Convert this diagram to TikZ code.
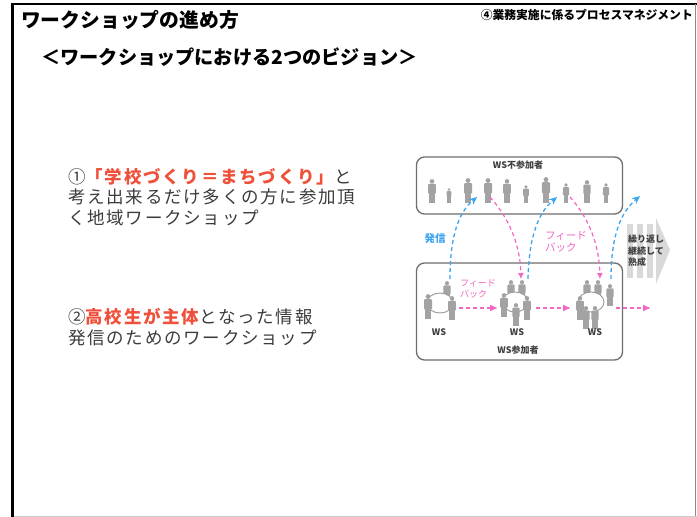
\documentclass[tikz,border=0pt]{standalone}
\usepackage{fontspec}
\newfontfamily\jp{Noto Sans CJK JP}
\newfontfamily\jpls{Noto Sans CJK JP}[LetterSpace=10]
\usetikzlibrary{arrows.meta,shapes.geometric}

\definecolor{accent}{HTML}{F0503A}
\definecolor{bodytxt}{HTML}{3C3C3C}
\definecolor{sil}{HTML}{A3A3A3}
\definecolor{boxline}{HTML}{6E6E6E}
\definecolor{sky}{HTML}{3DA5F0}
\definecolor{rose}{HTML}{F266C4}
\definecolor{stripe}{HTML}{D9D9D9}

\tikzset{
  % standing silhouette, one unit tall, y pointing down
  person/.pic={
    \fill[sil] (0,0.1) circle[radius=0.095];
    \fill[sil, rounded corners=1pt] (-0.16,0.2) rectangle (0.16,0.62);
    \fill[sil] (-0.12,0.58) rectangle (0.12,1);
  },
  panel/.style={draw=boxline, line width=1.3pt, rounded corners=8pt, fill=white, inner sep=0},
  smalllbl/.style={font=\jp\bfseries\fontsize{9}{10}\selectfont, text=black!75, inner sep=0},
  table/.style={draw=boxline!70, fill=white, line width=0.9pt},
  sendarrow/.style={sky, line width=1.3pt, dash pattern=on 4pt off 3pt, -{Stealth[length=8pt,width=7pt]}},
  backarrow/.style={rose, line width=1.2pt, dash pattern=on 4pt off 3pt, -{Latex[length=6pt,width=6pt]}},
  flowarrow/.style={rose, line width=1.2pt, dash pattern=on 4pt off 3pt, -{Latex[length=8pt,width=7pt]}},
}

\begin{document}
\begin{tikzpicture}[x=1pt,y=-1pt]
\useasboundingbox (0,0) rectangle (697,517);
\fill[white] (0,0) rectangle (697,517);

% slide frame
\draw[black, line width=3pt] (12.5,3) -- (12.5,517);
\draw[black, line width=2pt] (11,4) -- (697,4);
\draw[black!45, line width=1.2pt] (695.5,4) -- (695.5,517);
\draw[black!20, line width=1pt] (14,516.5) -- (697,516.5);

% headings
\node[anchor=west, inner sep=0, font=\jp\bfseries\fontsize{19.8}{22}\selectfont] (title) at (21,20) {ワークショップの進め方};
\node[anchor=east, inner sep=0, font=\jp\bfseries\fontsize{11.8}{13}\selectfont] (section) at (693,15) {④業務実施に係るプロセスマネジメント};
\node[anchor=west, inner sep=0, font=\jp\bfseries\fontsize{19.2}{21}\selectfont] (subtitle) at (41,57) {＜ワークショップにおける2つのビジョン＞};

% two visions
\node[anchor=north west, inner sep=0, align=left, text=bodytxt,
      font=\jpls\fontsize{17.5}{20.5}\selectfont] (vision1) at (68,168)
  {①{\color{accent}\bfseries「学校づくり＝まちづくり」}と\\考え出来るだけ多くの方に参加頂\\く地域ワークショップ};
\node[anchor=north west, inner sep=0, align=left, text=bodytxt,
      font=\jpls\fontsize{17.5}{20.5}\selectfont] (vision2) at (68,308)
  {②{\color{accent}\bfseries 高校生が主体}となった情報\\発信のためのワークショップ};

% repetition arrow on the right
\fill[stripe] (627,224) rectangle (633,278);
\fill[stripe] (637,224) rectangle (643,278);
\fill[stripe] (647,224) rectangle (653,278);
\fill[stripe] (656,218) -- (670,250) -- (656,284) -- cycle;
\node[anchor=north west, inner sep=0, align=left, text=black!75,
      font=\jp\bfseries\fontsize{9}{11.5}\selectfont] (repeat) at (628,235) {繰り返し\\継続して\\熟成};

% group boxes
\node[panel, minimum width=206pt, minimum height=57pt] (outside) at (519.5,185.5) {};
\node[panel, minimum width=206pt, minimum height=97pt] (inside) at (519.5,311.5) {};
\node[smalllbl] (outlbl) at (518,165) {WS不参加者};
\node[smalllbl] (inlbl) at (518,350) {WS参加者};

% people who do not attend
\pic[scale=24] at (432,179) {person};
\pic[scale=15] at (449,188) {person};
\pic[scale=25] at (468,178) {person};
\pic[scale=25] at (488,178) {person};
\pic[scale=24] at (507,179) {person};
\pic[scale=18] at (526,185) {person};
\pic[scale=26] at (546,177) {person};
\pic[scale=20] at (566,183) {person};
\pic[scale=23] at (587,180) {person};
\pic[scale=20] at (606,183) {person};

% workshop 1
\pic[scale=22] at (447,281) {person};
\draw[table] (440,303) ellipse[x radius=13, y radius=10];
\pic[scale=25] at (428,294) {person};
\pic[scale=24] at (452,296) {person};
\node[smalllbl] (ws1) at (439,332) {WS};

% workshop 2
\pic[scale=22] at (511,280) {person};
\pic[scale=22] at (522,280) {person};
\draw[table] (515,302) ellipse[x radius=13, y radius=10];
\pic[scale=24] at (504,293) {person};
\pic[scale=24] at (527,296) {person};
\pic[scale=23] at (516,303) {person};
\node[smalllbl] (ws2) at (517,332) {WS};

% workshop 3
\pic[scale=22] at (587,280) {person};
\pic[scale=22] at (598,280) {person};
\pic[scale=22] at (610,284) {person};
\draw[table] (591,302) ellipse[x radius=13, y radius=10];
\pic[scale=24] at (580,296) {person};
\pic[scale=23] at (586,306) {person};
\pic[scale=23] at (595,306) {person};
\node[smalllbl] (ws3) at (595,332) {WS};

% end points of the dashed links
\coordinate (s1a) at (450,279);  \coordinate (s1b) at (477,197);
\coordinate (s2a) at (528,279);  \coordinate (s2b) at (557,197);
\coordinate (s3a) at (611,279);  \coordinate (s3b) at (640,196);
\coordinate (f1a) at (490,197);  \coordinate (f1b) at (521,279);
\coordinate (f2a) at (570,197);  \coordinate (f2b) at (600,279);
\coordinate (h1a) at (459,308);  \coordinate (h1b) at (498,308);
\coordinate (h2a) at (536,308);  \coordinate (h2b) at (571,308);
\coordinate (h3a) at (616,308);  \coordinate (h3b) at (651,308);

% sending information out
\draw[sendarrow] (s1a) .. controls (450,235) and (459,212) .. (s1b);
\draw[sendarrow] (s2a) .. controls (529,235) and (539,212) .. (s2b);
\draw[sendarrow] (s3a) .. controls (611,235) and (621,212) .. (s3b);

% feedback from outside
\draw[backarrow] (f1a) .. controls (506,215) and (520,240) .. (f1b);
\draw[backarrow] (f2a) .. controls (586,215) and (599,240) .. (f2b);

% feedback between workshops
\draw[flowarrow] (h1a) -- (h1b);
\draw[flowarrow] (h2a) -- (h2b);
\draw[flowarrow] (h3a) -- (h3b);

% link labels
\node[inner sep=0, text=sky, font=\jp\bfseries\fontsize{10.5}{12}\selectfont] (sendlbl) at (435,239) {発信};
\node[inner sep=0, align=left, text=rose, font=\jp\fontsize{10.5}{12}\selectfont] (fb1) at (566,242) {フィード\\バック};
\node[inner sep=0, align=left, text=rose, font=\jp\fontsize{9}{11}\selectfont] (fb2) at (478,289) {フィード\\バック};
\end{tikzpicture}
\end{document}
